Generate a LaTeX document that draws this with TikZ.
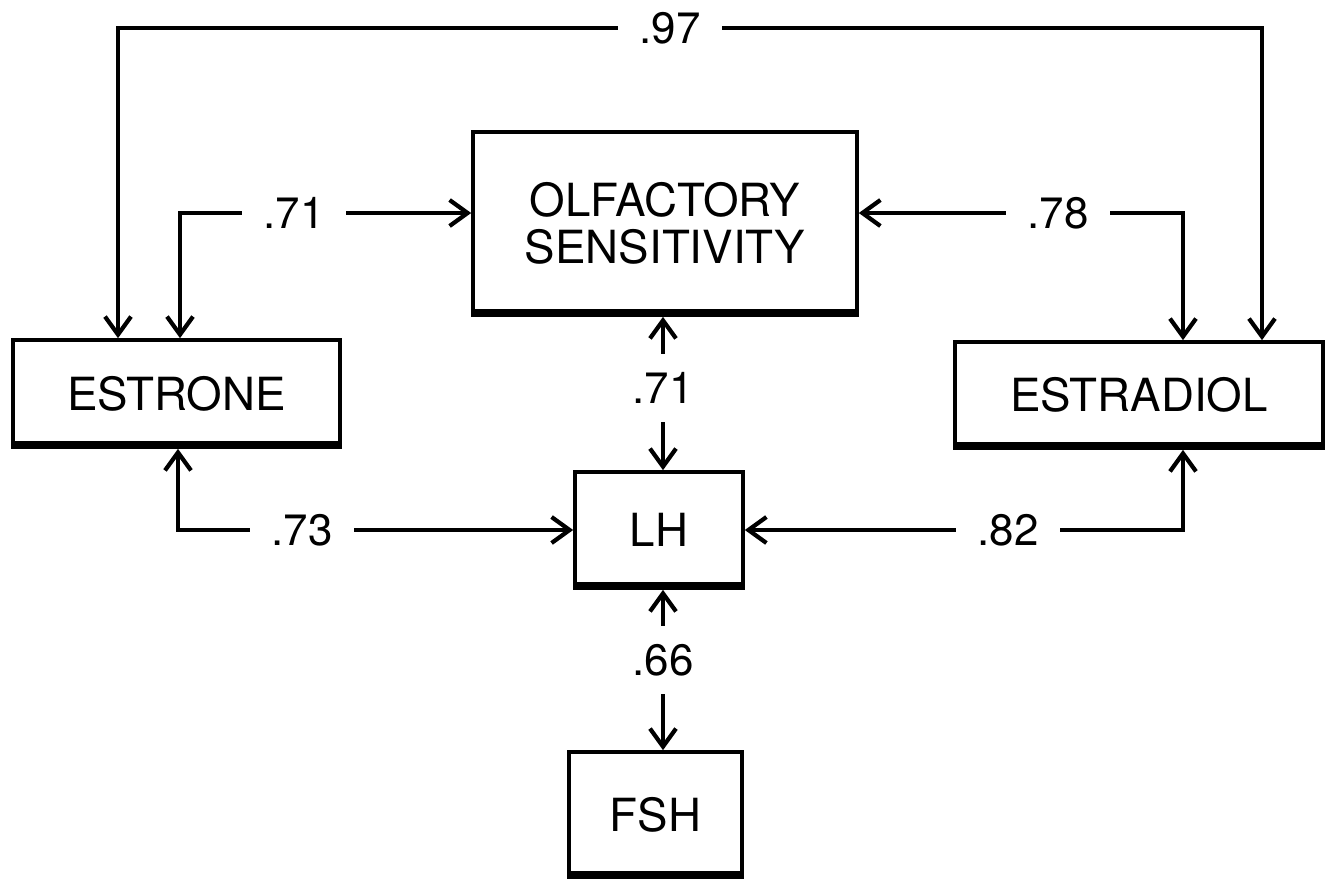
\documentclass[tikz,border=0pt]{standalone}
\usepackage{fontspec}
\setmainfont{TeX Gyre Heros}
\usetikzlibrary{arrows.meta}
\begin{document}
\begin{tikzpicture}[x=0.02cm,y=-0.02cm,
  box/.style={draw,line width=2.1pt,fill=white,inner sep=0pt,align=center,
    font=\fontsize{26}{27}\selectfont},
  conn/.style={line width=2.4pt,{Straight Barb[length=0.36cm,width=0.52cm,line width=2.4pt]}-{Straight Barb[length=0.36cm,width=0.52cm,line width=2.4pt]}},
  lbl/.style={fill=white,inner xsep=0.42cm,inner ysep=0.3cm,font=\fontsize{25}{26}\selectfont},
  vlbl/.style={fill=white,inner xsep=0.1cm,inner ysep=0.36cm,font=\fontsize{25}{26}\selectfont}]
\useasboundingbox (0,0) rectangle (1333,880);
% boxes
\node[box,minimum width=6.54cm,minimum height=2.14cm] (estrone) at (176.5,393.5) {ESTRONE};
\node[box,minimum width=7.68cm,minimum height=3.66cm] (olf) at (665,223.5) {OLFACTORY\\SENSITIVITY};
\node[box,minimum width=3.36cm,minimum height=2.32cm] (lh) at (659,530) {LH};
\node[box,minimum width=3.46cm,minimum height=2.5cm] (fsh) at (655.5,814.5) {FSH};
\node[box,minimum width=7.36cm,minimum height=2.12cm] (estradiol) at (1139,395) {ESTRADIOL};
% thick bottom edges
\foreach \n in {estrone,olf,lh,fsh,estradiol}
  \draw[line width=0.15cm] ([yshift=0.075cm]\n.south west) -- ([yshift=0.075cm]\n.south east);
% corner coordinates
\coordinate (t1) at (118,28);
\coordinate (t2) at (1262,28);
\coordinate (a) at (180,213);
\coordinate (b) at (1183,213);
\coordinate (c) at (178,530);
\coordinate (d) at (1183,530);
\coordinate (v) at (663,0);
% connectors
\draw[conn] (estrone.north -| t1) -- (t1) -- (t2) -- (estradiol.north -| t2);
\draw[conn] (estrone.north -| a) -- (a) -- (olf.west |- a);
\draw[conn] (olf.east |- b) -- (b) -- (estradiol.north -| b);
\draw[conn] (olf.south -| v) -- (lh.north -| v);
\draw[conn] (estrone.south -| c) -- (c) -- (lh.west |- c);
\draw[conn] (lh.east |- d) -- (d) -- (estradiol.south -| d);
\draw[conn] (lh.south -| v) -- (fsh.north -| v);
% labels
\node[lbl] (l97) at (670,28) {.97};
\node[lbl] (l71a) at (294,213) {.71};
\node[lbl] (l78) at (1058,213) {.78};
\node[vlbl] (l71b) at (663,388) {.71};
\node[lbl] (l73) at (302,530) {.73};
\node[lbl] (l82) at (1008,530) {.82};
\node[vlbl] (l66) at (663,660) {.66};
\end{tikzpicture}
\end{document}
